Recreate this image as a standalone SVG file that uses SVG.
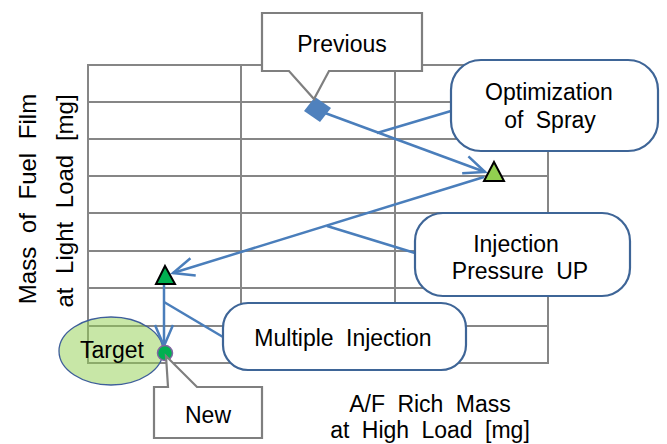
<svg xmlns="http://www.w3.org/2000/svg" width="667" height="444" viewBox="0 0 667 444">
<defs>
<style>
.grid{stroke:#868686;stroke-width:2;fill:none}
.conn{stroke:#4A7EBB;stroke-width:2.5;fill:none}
.box{fill:#fff;stroke:#3E6597;stroke-width:2.2}
.call{fill:#fff;stroke:#7F7F7F;stroke-width:2.2;stroke-linejoin:miter}
text{font-family:"Liberation Sans",Arial,sans-serif;font-size:23px;fill:#000;text-anchor:middle;word-spacing:6px}
</style>
<marker id="arr" viewBox="-23 -12 26 24" markerWidth="26" markerHeight="24" refX="0" refY="0" orient="auto" markerUnits="userSpaceOnUse">
<path d="M-21,-9 L0,0 L-21,9" fill="none" stroke="#4A7EBB" stroke-width="2.5"/>
</marker>
</defs>
<rect width="667" height="444" fill="#fff"/>
<g id="grid" class="grid">
<rect x="88" y="65" width="460" height="298"/>
<path d="M88,102H548M88,139H548M88,176H548M88,213H548M88,251H548M88,288H548M88,326H548M241,65V363M395,65V363"/>
</g>
<g id="axis-y">
<text transform="translate(36,199) rotate(-90)" style="font-size:24px;word-spacing:7px">Mass of Fuel Film</text>
<text transform="translate(73,201) rotate(-90)" style="font-size:24px;word-spacing:7px">at Light Load [mg]</text>
</g>
<g id="axis-x">
<text x="430" y="412">A/F Rich Mass</text>
<text x="430" y="438">at High Load [mg]</text>
</g>
<g id="target">
<ellipse cx="111" cy="351" rx="52" ry="34" fill="#92D050" fill-opacity="0.5" stroke="#3E5E9A" stroke-width="1.3"/>
<text x="112" y="358">Target</text>
</g>
<g id="connectors">
<line class="conn" x1="325" y1="113" x2="485" y2="172" marker-end="url(#arr)"/>
<line class="conn" x1="484" y1="177" x2="173" y2="273" marker-end="url(#arr)"/>
<line class="conn" x1="164" y1="284" x2="164" y2="346" marker-end="url(#arr)"/>
<line class="conn" x1="451" y1="111" x2="377" y2="133"/>
<line class="conn" x1="415" y1="253" x2="327" y2="226"/>
<line class="conn" x1="223" y1="337" x2="164" y2="302"/>
</g>
<g id="previous-point">
<polygon points="315,97 331,108 320,122 304,111" fill="#4F81BD"/>
</g>
<g id="step1-point">
<polygon points="494,162 504,181 484,181" fill="#92D050" stroke="#000" stroke-width="2" stroke-linejoin="miter"/>
</g>
<g id="step2-point">
<polygon points="165,266 175,284 156,284" fill="#00B050" stroke="#000" stroke-width="2" stroke-linejoin="miter"/>
</g>
<g id="new-point">
<circle cx="165" cy="353" r="7.5" fill="#00B050" stroke="#8064A2" stroke-width="1.5"/>
</g>
<g id="previous">
<path class="call" d="M262,13H422V71H329L314,99L289,71H262Z"/>
<text x="342" y="52">Previous</text>
</g>
<g id="new">
<path class="call" d="M154,387H168L166,356L197,387H262V438H154Z"/>
<text x="208" y="423">New</text>
</g>
<g id="optimization">
<rect class="box" x="451" y="60" width="207" height="91" rx="30"/>
<text x="549" y="100">Optimization</text>
<text x="550" y="128">of Spray</text>
</g>
<g id="injection-pressure">
<rect class="box" x="415" y="213" width="215" height="83" rx="28"/>
<text x="516" y="252">Injection</text>
<text x="520" y="279">Pressure UP</text>
</g>
<g id="multiple-injection">
<rect class="box" x="223" y="303" width="243" height="67" rx="25"/>
<text x="343" y="346">Multiple Injection</text>
</g>
</svg>
